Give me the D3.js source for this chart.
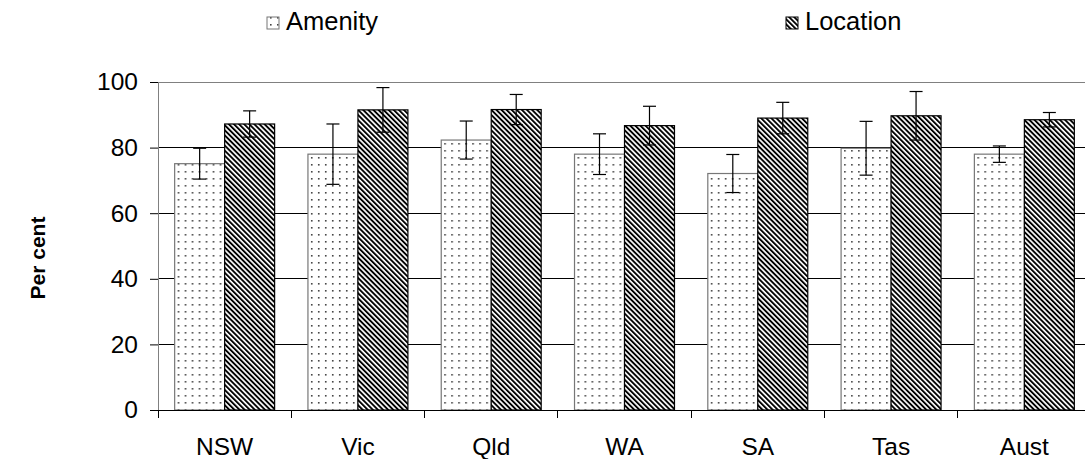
<!DOCTYPE html>
<html><head><meta charset="utf-8">
<script src="https://cdn.jsdelivr.net/npm/d3@7"></script>
<style>body{margin:0;background:#fff;} svg{display:block;font-family:Arial,"Liberation Sans",sans-serif;}</style>
</head><body>
<svg id="chart" width="1085" height="459"></svg>
<script>
const categories = ["NSW","Vic","Qld","WA","SA","Tas","Aust"];
const seriesNames = ["Amenity","Location"];
const amenityValues = [75.1, 78.0, 82.3, 78.0, 72.1, 79.8, 78.0];
const amenityErr = [4.7, 9.2, 5.8, 6.2, 5.8, 8.2, 2.5];
const locationValues = [87.2, 91.5, 91.6, 86.7, 89.0, 89.7, 88.5];
const locationErr = [4.0, 6.8, 4.6, 5.9, 4.8, 7.4, 2.2];
const yTicks = [0, 20, 40, 60, 80, 100];

const svg = d3.select("#chart");
svg.append("rect").attr("width",1085).attr("height",459).attr("fill","#fff");

const defs = svg.append("defs");
const dots = defs.append("pattern").attr("id","dots").attr("patternUnits","userSpaceOnUse")
  .attr("width",7).attr("height",7);
dots.append("rect").attr("width",7).attr("height",7).attr("fill","#fff");
dots.append("rect").attr("x",3).attr("y",3).attr("width",1.6).attr("height",1.6).attr("fill","#444");
const hatch = defs.append("pattern").attr("id","hatch").attr("patternUnits","userSpaceOnUse")
  .attr("width",3.6).attr("height",3.6).attr("patternTransform","rotate(-45)");
hatch.append("rect").attr("width",3.6).attr("height",3.6).attr("fill","#fff");
hatch.append("rect").attr("width",1.9).attr("height",3.6).attr("fill","#000");

const fills = {Amenity:"url(#dots)", Location:"url(#hatch)"};
const strokes = {Amenity:"#777", Location:"#000"};

const x0 = d3.scaleBand().domain(categories).range([158, 1091]).paddingInner(0.25).paddingOuter(0.125);
const x1 = d3.scaleBand().domain(seriesNames).range([0, x0.bandwidth()]);
const y = d3.scaleLinear().domain([0,100]).range([410, 82]);

// gridlines
svg.append("g").selectAll("line").data(yTicks.filter(t=>t>0)).join("line")
  .attr("x1",158).attr("x2",1091).attr("y1",d=>y(d)).attr("y2",d=>y(d))
  .attr("stroke",d=>d===100?"#808080":"#000").attr("stroke-width",1).attr("shape-rendering","crispEdges");

// y axis
const yAxis = svg.append("g").attr("transform","translate(158,0)")
  .call(d3.axisLeft(y).tickValues(yTicks).tickSize(8).tickPadding(12).tickFormat(d3.format("d")));
yAxis.select(".domain").remove();
yAxis.selectAll(".tick line").attr("stroke","#000");
yAxis.selectAll(".tick text").attr("font-size",24.5).attr("fill","#000").attr("font-family","Arial, 'Liberation Sans', sans-serif");
svg.append("line").attr("x1",158).attr("x2",158).attr("y1",82).attr("y2",410)
  .attr("stroke","#808080").attr("shape-rendering","crispEdges");

const data = categories.map((c,i)=>({cat:c, vals:[
  {s:"Amenity", v:amenityValues[i], e:amenityErr[i]},
  {s:"Location", v:locationValues[i], e:locationErr[i]}]}));

const groups = svg.append("g").selectAll("g").data(data).join("g")
  .attr("transform",d=>`translate(${x0(d.cat)},0)`);
groups.selectAll("rect").data(d=>d.vals).join("rect")
  .attr("x",d=>x1(d.s)).attr("width",x1.bandwidth())
  .attr("y",d=>y(d.v)).attr("height",d=>y(0)-y(d.v))
  .attr("fill",d=>fills[d.s]).attr("stroke",d=>strokes[d.s]).attr("stroke-width",1.2);

// error bars
const eb = groups.selectAll("g.err").data(d=>d.vals).join("g").attr("class","err")
  .attr("transform",d=>`translate(${x1(d.s)+x1.bandwidth()/2},0)`);
eb.append("line").attr("x1",0).attr("x2",0).attr("y1",d=>y(d.v+d.e)).attr("y2",d=>y(d.v-d.e))
  .attr("stroke","#000").attr("stroke-width",1.2);
eb.append("line").attr("x1",-6.5).attr("x2",6.5).attr("y1",d=>y(d.v+d.e)).attr("y2",d=>y(d.v+d.e))
  .attr("stroke","#000").attr("stroke-width",1.2);
eb.append("line").attr("x1",-6.5).attr("x2",6.5).attr("y1",d=>y(d.v-d.e)).attr("y2",d=>y(d.v-d.e))
  .attr("stroke","#000").attr("stroke-width",1.2);

// x axis
svg.append("line").attr("x1",150).attr("x2",1091).attr("y1",410).attr("y2",410)
  .attr("stroke","#000").attr("shape-rendering","crispEdges");
const bounds = categories.map(c=>x0(c)-x0.step()*x0.paddingInner()/2);
svg.append("g").selectAll("line").data(bounds).join("line")
  .attr("x1",d=>d).attr("x2",d=>d).attr("y1",410).attr("y2",418)
  .attr("stroke","#000").attr("shape-rendering","crispEdges");
svg.append("g").selectAll("text").data(categories).join("text")
  .attr("x",d=>x0(d)+x0.bandwidth()/2).attr("y",455).attr("text-anchor","middle")
  .attr("font-size",24.5).attr("fill","#000").text(d=>d);

// y label
svg.append("text").attr("transform","translate(45,258) rotate(-90)").attr("text-anchor","middle")
  .attr("font-size",21).attr("font-weight","bold").attr("fill","#000").text("Per cent");

// legend
const legendPos = [{s:"Amenity", x:267}, {s:"Location", x:786}];
const lg = svg.append("g").selectAll("g").data(legendPos).join("g")
  .attr("transform",d=>`translate(${d.x},0)`);
lg.append("rect").attr("x",0).attr("y",17).attr("width",12).attr("height",12)
  .attr("fill",d=>fills[d.s]).attr("stroke",d=>strokes[d.s]);
lg.append("text").attr("x",19).attr("y",30).attr("font-size",25.5).attr("fill","#000").text(d=>d.s);
</script>
</body></html>
